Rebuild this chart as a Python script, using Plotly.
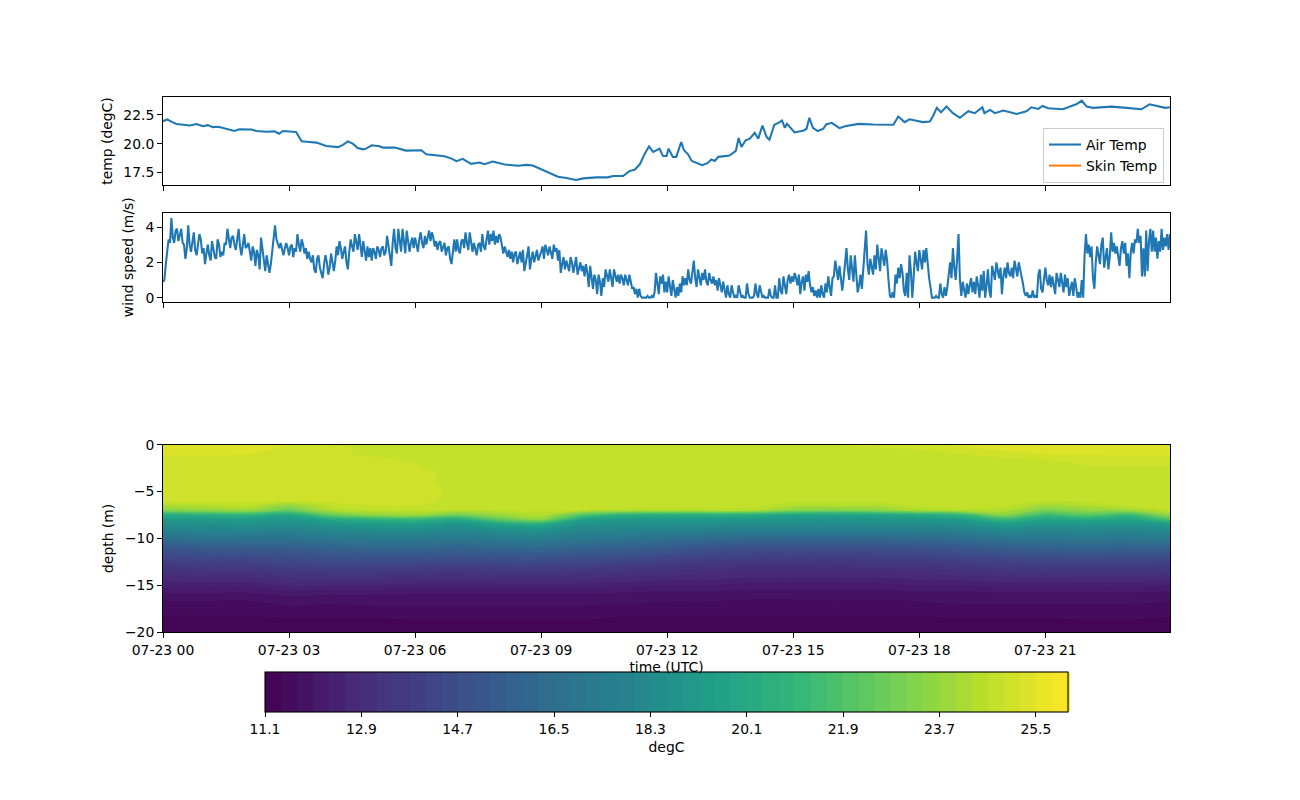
"""Air temperature, wind speed and water temperature section for one day."""
import pandas as pd
import plotly.graph_objects as go
from plotly.subplots import make_subplots

BASE_TIME = "2023-07-23 00:00"
END_TIME = "2023-07-23 23:58"
FONT = "DejaVu Sans"
FONT_SIZE = 13.9

temp_minutes = [0, 6, 12, 19, 29, 38, 48, 57, 64, 71, 79, 88, 102, 109, 126, 133, 148, 159, 166, 171,
                190, 193, 198, 209, 219, 233, 250, 257, 264, 271, 278, 286, 290, 298, 309, 314, 331, 347,
                362, 369, 376, 386, 402, 412, 419, 428, 440, 452, 459, 471, 488, 507, 519, 528, 545, 552,
                564, 576, 590, 600, 619, 635, 643, 657, 666, 674, 681, 688, 694, 700,
                709, 714, 719, 722, 728, 733, 740, 744, 750, 755, 762, 770, 778, 783, 788, 793, 809, 818,
                822, 826, 832, 838, 845, 850, 856, 862, 866, 873, 878, 884, 888, 891, 902, 909, 915, 919,
                923, 928, 935, 943, 947, 955, 966, 974, 993, 1014, 1043, 1050, 1059, 1066, 1085, 1095,
                1100, 1105, 1111, 1119, 1128, 1138, 1150, 1159, 1170, 1173, 1181, 1188, 1200, 1219, 1233,
                1240, 1250, 1256, 1264, 1285, 1300, 1305, 1312, 1319, 1328, 1354, 1376, 1397, 1409, 1423,
                1431, 1438]
temp_values = [21.94, 22.09, 21.9, 21.7, 21.63, 21.57, 21.7, 21.5, 21.6, 21.43, 21.46, 21.3, 21.1, 21.25,
               21.23, 21.1, 21.03, 21.06, 20.86, 21.09, 21.0, 20.7, 20.2, 20.14, 20.09, 19.8, 19.7, 19.9,
               20.2, 20.0, 19.63, 19.51, 19.57, 19.86, 19.77, 19.66, 19.66, 19.4, 19.4, 19.43, 19.09, 19.0,
               18.91, 18.71, 18.49, 18.69, 18.26, 18.37, 18.23, 18.46, 18.2, 18.09, 18.17, 18.11, 17.63,
               17.49, 17.14, 17.03, 16.86, 17.0, 17.09, 17.09, 17.2, 17.2, 17.63, 17.77, 18.23, 19.14,
               19.77, 19.29,
               19.57, 18.94, 18.94, 19.57, 18.86, 18.86, 20.14, 19.43, 19.06, 18.51, 18.34, 18.14, 18.34,
               18.63, 18.51, 18.86, 18.97, 19.37, 20.49, 19.71, 20.29, 20.43, 20.94, 20.43, 21.57, 20.57,
               20.34, 21.63, 21.77, 22.0, 21.37, 21.71, 20.97, 21.09, 21.14, 21.29, 22.23, 21.37, 21.09,
               21.29, 21.66, 21.8, 21.34, 21.51, 21.71, 21.66, 21.63, 22.34, 21.86, 22.11, 21.86, 21.91,
               22.43, 23.09, 22.71, 23.2, 22.63, 22.23, 22.8, 22.63, 23.14, 22.63, 22.91, 22.63, 22.86,
               22.57, 22.8, 23.14, 23.0, 23.26, 23.06, 22.97, 23.29, 23.43, 23.71, 23.2, 23.09, 23.2, 23.09,
               22.97, 23.4, 23.2, 23.09, 23.14]

# one row per hour, one value every 2 minutes
wind_values = [
    0.9, 1.0, 1.9, 2.7, 3.3, 3.1, 4.5, 3.4, 3.1, 3.8, 3.9, 3.2, 3.6, 3.9, 3.1, 3.0, 2.2, 2.8, 4.1, 3.0, 2.6, 3.2, 3.7, 2.7, 2.4, 3.0, 3.6, 3.3, 2.5, 2.8,
    1.9, 2.5, 3.0, 2.4, 2.1, 3.2, 2.8, 2.3, 2.2, 3.3, 3.0, 2.3, 2.6, 2.4, 3.1, 3.0, 3.9, 3.2, 2.8, 3.4, 3.5, 3.0, 2.7, 3.3, 3.9, 2.9, 2.4, 3.0, 3.6, 2.8,
    2.9, 3.1, 2.5, 2.1, 2.9, 2.6, 1.8, 2.7, 2.4, 1.6, 3.4, 2.7, 1.9, 1.5, 2.4, 2.0, 1.4, 1.9, 2.6, 3.1, 4.1, 3.3, 3.0, 2.8, 3.1, 2.7, 2.4, 2.8, 3.1, 2.8,
    2.4, 2.9, 3.0, 2.3, 2.8, 2.6, 3.6, 3.0, 2.6, 3.3, 3.0, 2.5, 2.8, 2.2, 2.6, 2.2, 2.0, 2.4, 1.6, 1.4, 2.2, 2.4, 1.7, 1.4, 1.1, 1.9, 2.4, 2.0, 1.3, 1.7,
    2.5, 2.0, 1.5, 2.1, 2.9, 2.4, 3.2, 2.8, 2.2, 2.6, 2.9, 2.0, 1.6, 2.6, 3.3, 2.9, 2.6, 3.6, 3.1, 2.7, 3.6, 3.0, 2.3, 3.2, 2.6, 2.1, 2.9, 2.3, 2.8, 2.1,
    2.8, 2.6, 2.2, 2.9, 2.7, 2.3, 2.8, 2.9, 2.4, 2.6, 3.5, 2.9, 2.4, 1.8, 3.1, 3.9, 2.8, 2.5, 3.9, 3.2, 2.6, 3.9, 3.0, 2.5, 3.8, 3.2, 2.6, 3.1, 3.4, 2.8,
    3.4, 3.0, 2.6, 3.3, 3.7, 3.1, 2.8, 3.5, 3.0, 3.4, 3.8, 3.2, 3.7, 3.4, 2.9, 3.2, 2.7, 3.1, 3.2, 2.6, 2.9, 3.1, 2.4, 2.8, 2.9, 2.2, 1.9, 2.8, 3.3, 2.6,
    3.3, 2.7, 2.5, 3.2, 3.3, 2.8, 3.7, 3.1, 2.7, 3.7, 3.2, 2.6, 3.1, 2.8, 2.4, 3.0, 3.1, 2.6, 3.6, 2.9, 2.7, 3.3, 3.8, 3.0, 3.6, 3.2, 3.8, 3.0, 3.5, 3.1,
    3.6, 3.4, 2.8, 2.5, 2.9, 2.6, 2.3, 2.7, 2.2, 2.6, 2.0, 2.5, 2.6, 1.9, 2.3, 2.6, 2.0, 2.7, 1.5, 2.1, 2.4, 2.9, 1.6, 2.2, 2.6, 2.0, 2.4, 2.7, 2.1, 2.3,
    2.6, 2.9, 2.2, 3.0, 2.6, 2.4, 2.9, 2.5, 2.2, 3.0, 2.6, 2.8, 2.1, 2.7, 1.4, 1.9, 2.3, 1.6, 2.1, 1.8, 1.5, 2.3, 2.0, 1.4, 1.9, 2.3, 1.3, 1.7, 2.0, 1.5,
    1.8, 1.2, 1.9, 1.4, 0.6, 1.8, 1.1, 0.5, 1.3, 1.0, 0.2, 1.3, 0.9, 0.1, 1.1, 0.6, 1.6, 1.2, 0.9, 1.6, 1.1, 0.6, 1.6, 1.3, 0.9, 1.3, 0.8, 1.3, 1.1, 0.7,
    1.3, 1.0, 0.7, 1.3, 0.9, 0.5, 0.6, 0.2, 0.5, 0.0, 0.5, 0.1, 0.0, 0.0, 0.0, 0.0, 0.1, 0.0, 0.0, 0.1, 0.0, 0.3, 1.4, 0.6, 0.2, 1.2, 0.8, 1.3, 0.3, 0.9,
    0.3, 1.2, 0.6, 0.1, 1.0, 0.4, 0.0, 0.6, 0.1, 0.8, 0.3, 1.2, 0.7, 1.1, 0.7, 1.6, 1.0, 0.8, 1.4, 2.1, 1.1, 0.6, 1.6, 1.2, 0.7, 1.4, 1.0, 1.6, 0.9, 0.7,
    1.4, 1.0, 0.8, 1.2, 0.7, 1.0, 0.4, 1.1, 0.6, 0.3, 0.9, 0.4, 0.0, 0.7, 0.2, 0.0, 0.7, 0.3, 0.0, 0.1, 0.0, 0.7, 0.4, 0.0, 0.1, 0.0, 0.0, 0.8, 0.2, 0.0,
    0.0, 0.0, 0.1, 0.8, 0.2, 0.0, 0.7, 0.3, 0.0, 0.1, 0.0, 0.0, 0.0, 0.5, 0.1, 0.0, 0.0, 0.7, 0.0, 0.0, 1.1, 0.4, 0.2, 1.2, 0.8, 0.2, 1.0, 1.3, 0.8, 1.2,
    0.9, 1.4, 1.1, 0.7, 1.3, 0.2, 0.9, 1.2, 0.4, 1.3, 0.9, 1.5, 0.7, 0.3, 0.6, 0.1, 0.4, 0.0, 0.5, 0.0, 0.7, 0.2, 0.0, 0.8, 0.3, 1.2, 0.6, 0.1, 1.1, 1.2,
    2.1, 1.5, 1.0, 1.8, 0.9, 0.4, 1.1, 1.9, 2.8, 1.6, 1.0, 2.4, 1.8, 0.9, 2.4, 1.4, 0.3, 0.7, 1.3, 0.5, 1.7, 2.3, 3.8, 1.9, 1.3, 2.2, 1.7, 1.3, 2.4, 1.6,
    3.0, 2.0, 1.5, 2.8, 2.2, 1.8, 2.7, 2.1, 1.0, 0.1, 0.0, 0.3, 0.0, 1.3, 0.8, 1.7, 1.1, 1.9, 1.4, 0.4, 0.1, 1.4, 0.0, 2.4, 1.5, 0.0, 1.2, 2.6, 2.0, 1.5,
    2.7, 2.2, 1.6, 2.7, 2.0, 2.8, 1.9, 1.1, 0.6, 0.0, 0.0, 0.0, 0.1, 0.0, 0.0, 0.8, 0.2, 0.0, 0.6, 0.1, 0.6, 1.4, 2.0, 1.1, 2.8, 1.7, 1.0, 2.2, 3.6, 1.0,
    0.1, 0.9, 0.4, 0.0, 0.8, 0.2, 0.7, 1.1, 0.3, 0.9, 0.2, 1.2, 0.7, 0.0, 1.3, 0.4, 1.5, 0.0, 0.7, 1.6, 0.4, 0.0, 1.8, 1.3, 1.0, 2.0, 1.4, 1.1, 1.7, 0.2,
    1.2, 1.7, 1.1, 2.0, 1.4, 1.2, 1.7, 1.1, 2.1, 1.6, 1.2, 2.0, 1.5, 1.2, 0.8, 0.3, 0.1, 0.3, 0.0, 0.1, 0.0, 0.4, 0.0, 0.1, 0.0, 1.3, 1.6, 0.5, 0.3, 1.1,
    1.7, 1.0, 0.7, 1.3, 0.6, 1.2, 0.8, 0.2, 1.4, 1.0, 0.6, 1.4, 0.9, 0.3, 1.3, 0.6, 1.1, 0.1, 0.5, 0.9, 0.1, 1.1, 0.6, 0.0, 0.3, 0.0, 1.0, 0.0, 2.4, 3.6,
    2.5, 3.0, 2.3, 2.9, 1.1, 0.5, 2.0, 2.9, 2.4, 1.9, 3.0, 3.4, 1.7, 2.4, 2.8, 1.6, 2.3, 3.7, 2.6, 3.1, 2.5, 2.9, 2.2, 1.8, 2.8, 3.2, 2.5, 3.1, 1.8, 2.5,
    1.1, 2.6, 3.1, 2.5, 3.3, 3.1, 3.9, 3.1, 3.5, 1.2, 2.8, 1.2, 3.8, 1.5, 3.2, 3.9, 2.6, 3.8, 2.6, 3.4, 2.2, 3.2, 2.6, 3.9, 2.7, 3.4, 2.9, 3.6, 2.7, 3.6,
]

section_minutes = [0, 60, 120, 180, 240, 300, 360, 420, 480, 540, 600, 660, 720, 780, 840, 900, 960, 1020,
                   1080, 1140, 1200, 1260, 1320, 1380, 1438]
depths = [0, -0.5, -1, -1.5, -2, -3, -4, -5, -6, -6.5, -7, -7.5, -8, -8.5, -9, -10, -11, -12, -13, -14,
          -15, -16, -17, -18, -19, -20]
section_temp = [
    [25.5, 25.5, 25.4, 25.2, 24.9, 24.8, 24.75, 24.75, 24.75, 24.75, 24.75, 24.75, 24.7, 24.7, 24.75, 24.8, 24.9, 25.0, 25.1, 25.25, 25.3, 25.35, 25.4, 25.45, 25.5],
    [25.45, 25.45, 25.35, 25.1, 24.95, 24.85, 24.8, 24.75, 24.75, 24.75, 24.75, 24.75, 24.75, 24.75, 24.75, 24.75, 24.8, 24.85, 24.9, 25.1, 25.25, 25.3, 25.3, 25.35, 25.4],
    [25.3, 25.3, 25.2, 25.05, 24.95, 24.85, 24.8, 24.75, 24.75, 24.75, 24.75, 24.75, 24.75, 24.75, 24.75, 24.75, 24.75, 24.8, 24.8, 24.9, 25.05, 25.2, 25.25, 25.3, 25.3],
    [25.1, 25.05, 25.05, 25.0, 25.0, 24.95, 24.85, 24.8, 24.75, 24.75, 24.75, 24.75, 24.75, 24.75, 24.75, 24.75, 24.75, 24.75, 24.75, 24.75, 24.85, 24.95, 25.0, 25.0, 25.0],
    [25.05, 25.05, 25.05, 25.0, 25.0, 25.0, 24.9, 24.8, 24.75, 24.75, 24.75, 24.75, 24.75, 24.75, 24.75, 24.75, 24.75, 24.75, 24.75, 24.75, 24.75, 24.8, 24.95, 24.95, 24.95],
    [25.05, 25.05, 25.05, 25.05, 25.05, 25.05, 25.0, 24.8, 24.75, 24.75, 24.75, 24.75, 24.75, 24.75, 24.75, 24.75, 24.75, 24.75, 24.75, 24.75, 24.75, 24.75, 24.75, 24.75, 24.75],
    [25.05, 25.05, 25.05, 25.05, 25.05, 25.05, 25.0, 24.8, 24.75, 24.75, 24.75, 24.75, 24.75, 24.75, 24.75, 24.75, 24.75, 24.75, 24.75, 24.75, 24.75, 24.75, 24.75, 24.75, 24.75],
    [25.05, 25.05, 25.05, 25.05, 25.05, 25.05, 25.0, 24.85, 24.75, 24.75, 24.75, 24.75, 24.75, 24.75, 24.75, 24.75, 24.75, 24.75, 24.75, 24.75, 24.75, 24.75, 24.75, 24.75, 24.75],
    [25.0, 25.0, 25.0, 24.95, 25.0, 25.0, 25.0, 24.8, 24.75, 24.75, 24.75, 24.75, 24.75, 24.75, 24.75, 24.7, 24.7, 24.7, 24.75, 24.75, 24.75, 24.7, 24.75, 24.75, 24.75],
    [24.2, 24.4, 24.6, 23.6, 24.7, 24.9, 24.9, 24.75, 24.75, 24.75, 24.75, 24.75, 24.75, 24.75, 24.75, 24.3, 24.3, 24.3, 24.7, 24.75, 24.7, 24.0, 24.3, 24.7, 24.75],
    [23.4, 23.6, 23.9, 22.6, 24.3, 24.6, 24.7, 24.6, 24.6, 24.7, 24.6, 24.5, 24.4, 24.5, 24.4, 23.4, 23.3, 23.5, 24.2, 24.5, 24.4, 23.1, 23.6, 23.9, 24.6],
    [20.2, 20.5, 20.8, 20.0, 22.5, 23.6, 23.9, 22.8, 23.8, 24.4, 22.0, 20.6, 20.3, 20.4, 20.3, 19.8, 19.7, 19.9, 20.2, 21.0, 23.4, 21.3, 22.2, 21.2, 23.7],
    [19.1, 19.2, 19.3, 19.0, 20.0, 20.6, 20.9, 20.1, 22.3, 23.5, 19.6, 19.2, 19.1, 19.1, 19.0, 18.9, 18.8, 18.9, 19.0, 19.3, 21.0, 19.8, 20.0, 19.8, 21.8],
    [18.5, 18.6, 18.7, 18.5, 18.9, 19.2, 19.4, 18.9, 19.8, 20.2, 18.7, 18.6, 18.5, 18.5, 18.3, 18.3, 18.3, 18.3, 18.4, 18.6, 19.3, 18.8, 18.9, 18.8, 19.3],
    [18.0, 18.1, 18.1, 18.0, 18.3, 18.5, 18.6, 18.3, 18.7, 18.9, 18.2, 18.1, 18.0, 17.9, 17.8, 17.8, 17.8, 17.8, 17.8, 17.9, 18.4, 18.2, 18.3, 18.2, 18.4],
    [16.6, 16.8, 16.8, 16.8, 17.1, 17.3, 17.3, 17.1, 17.4, 17.6, 17.1, 16.9, 16.6, 16.4, 16.2, 16.1, 16.1, 16.2, 16.3, 16.5, 16.9, 17.0, 17.1, 17.1, 17.2],
    [15.2, 15.4, 15.5, 15.6, 15.9, 16.0, 16.1, 15.9, 16.1, 16.2, 15.9, 15.7, 15.4, 15.0, 14.8, 14.8, 14.8, 14.8, 15.0, 15.2, 15.6, 15.8, 15.9, 15.8, 15.8],
    [14.3, 14.5, 14.5, 14.7, 14.9, 15.0, 15.0, 14.9, 15.0, 15.0, 14.8, 14.7, 14.4, 14.1, 14.0, 14.0, 13.9, 14.0, 14.1, 14.3, 14.5, 14.6, 14.7, 14.6, 14.6],
    [13.5, 13.7, 13.7, 14.0, 14.1, 14.1, 14.0, 13.9, 14.0, 14.0, 13.9, 13.7, 13.5, 13.3, 13.2, 13.2, 13.2, 13.3, 13.3, 13.5, 13.7, 13.8, 13.8, 13.8, 13.7],
    [12.9, 13.0, 13.0, 13.3, 13.3, 13.3, 13.2, 13.1, 13.2, 13.2, 13.1, 13.0, 12.9, 12.8, 12.7, 12.7, 12.7, 12.7, 12.8, 12.9, 13.0, 13.1, 13.0, 13.0, 13.0],
    [12.4, 12.4, 12.4, 12.7, 12.6, 12.6, 12.5, 12.5, 12.5, 12.5, 12.5, 12.4, 12.3, 12.3, 12.2, 12.2, 12.2, 12.2, 12.3, 12.3, 12.4, 12.4, 12.4, 12.4, 12.3],
    [11.95, 11.95, 11.9, 12.05, 12.0, 12.0, 11.95, 11.95, 11.95, 11.95, 11.95, 11.9, 11.85, 11.85, 11.8, 11.8, 11.8, 11.8, 11.85, 11.85, 11.9, 11.9, 11.9, 11.9, 11.85],
    [11.6, 11.6, 11.6, 11.75, 11.7, 11.75, 11.75, 11.75, 11.75, 11.75, 11.75, 11.7, 11.65, 11.65, 11.6, 11.6, 11.65, 11.6, 11.65, 11.7, 11.7, 11.7, 11.7, 11.7, 11.65],
    [11.45, 11.45, 11.45, 11.5, 11.5, 11.5, 11.5, 11.5, 11.5, 11.5, 11.5, 11.45, 11.45, 11.45, 11.45, 11.45, 11.45, 11.45, 11.45, 11.5, 11.5, 11.5, 11.5, 11.5, 11.45],
    [11.3, 11.3, 11.3, 11.3, 11.3, 11.3, 11.35, 11.35, 11.35, 11.35, 11.35, 11.3, 11.3, 11.3, 11.3, 11.3, 11.3, 11.3, 11.3, 11.3, 11.3, 11.3, 11.35, 11.35, 11.3],
    [11.2, 11.2, 11.2, 11.2, 11.2, 11.2, 11.2, 11.2, 11.2, 11.2, 11.2, 11.2, 11.2, 11.2, 11.2, 11.2, 11.2, 11.2, 11.2, 11.2, 11.2, 11.2, 11.2, 11.2, 11.2],
]

tick_times = ["2023-07-23 00:00", "2023-07-23 03:00", "2023-07-23 06:00", "2023-07-23 09:00",
              "2023-07-23 12:00", "2023-07-23 15:00", "2023-07-23 18:00", "2023-07-23 21:00"]
colorbar_ticks = [11.1, 12.9, 14.7, 16.5, 18.3, 20.1, 21.9, 23.7, 25.5]


def to_times(minutes: list) -> pd.DatetimeIndex:
    """Turn minutes since the start of the day into timestamps."""
    return pd.Timestamp(BASE_TIME) + pd.to_timedelta(minutes, unit="m")


wind_minutes = [i * 2 for i in range(len(wind_values))]

fig = make_subplots(rows=3, cols=1)

fig.add_trace(go.Scatter(x=to_times(temp_minutes), y=temp_values, mode="lines", name="Air Temp",
                         line=dict(color="#1f77b4", width=2.08)), row=1, col=1)
# the skin temperature series has no data, it only shows up in the legend
fig.add_trace(go.Scatter(x=[BASE_TIME], y=[None], mode="lines", name="Skin Temp",
                         line=dict(color="#ff7f0e", width=2.08)), row=1, col=1)
fig.add_trace(go.Scatter(x=to_times(wind_minutes), y=wind_values, mode="lines", showlegend=False,
                         line=dict(color="#1f77b4", width=2.08)), row=2, col=1)
fig.add_trace(go.Contour(x=to_times(section_minutes), y=depths, z=section_temp, colorscale="Viridis",
                         zmin=11.1, zmax=26.1, autocontour=False, showlegend=False,
                         contours=dict(start=11.1, end=26.1, size=0.3, coloring="fill", showlines=False),
                         line=dict(width=0),
                         colorbar=dict(orientation="h", lenmode="pixels", len=803, thicknessmode="pixels",
                                       thickness=40, xref="paper", yref="paper",
                                       x=(265 - 163) / 1007, xanchor="left",
                                       y=(632 - 672) / 535, yanchor="top", xpad=0, ypad=0,
                                       outlinecolor="black", outlinewidth=1.1,
                                       tickmode="array", tickvals=colorbar_ticks, tickformat=".1f",
                                       ticks="outside", ticklen=4.9, tickwidth=1.1, tickcolor="black",
                                       tickfont=dict(family=FONT, size=FONT_SIZE, color="black"),
                                       title=dict(text="degC", side="bottom",
                                                  font=dict(family=FONT, size=FONT_SIZE, color="black")))),
              row=3, col=1)

axis_style = dict(showgrid=False, zeroline=False, showline=True, mirror=True, linecolor="black",
                  linewidth=1.1, ticks="outside", ticklen=4.9, tickwidth=1.1, tickcolor="black",
                  tickfont=dict(family=FONT, size=FONT_SIZE, color="black"))
title_font = dict(family=FONT, size=FONT_SIZE, color="black")

for row in (1, 2, 3):
    fig.update_xaxes(axis_style, range=[BASE_TIME, END_TIME], tickmode="array", tickvals=tick_times,
                     tickformat="%m-%d %H", showticklabels=row == 3, row=row, col=1)

fig.update_xaxes(title=dict(text="time (UTC)", font=title_font, standoff=5), row=3, col=1)
fig.update_yaxes(axis_style, domain=[(632 - 185) / 535, (632 - 97) / 535], range=[16.43, 24.03],
                 tickmode="array", tickvals=[17.5, 20, 22.5], tickformat=".1f",
                 title=dict(text="temp (degC)", font=title_font, standoff=7), row=1, col=1)
fig.update_yaxes(axis_style, domain=[(632 - 301.7) / 535, (632 - 212.7) / 535], range=[-0.23, 4.81],
                 tickmode="array", tickvals=[0, 2, 4],
                 title=dict(text="wind speed (m/s)", font=title_font, standoff=8), row=2, col=1)
fig.update_yaxes(axis_style, domain=[0, (632 - 444.7) / 535], range=[-20, 0],
                 tickmode="array", tickvals=[0, -5, -10, -15, -20],
                 title=dict(text="depth (m)", font=title_font, standoff=8), row=3, col=1)

# the page has an 8px body margin, so the margins are 8px short on the left and top
fig.update_layout(width=1300, height=800, margin=dict(l=155, r=138, t=89, b=176, autoexpand=False),
                  paper_bgcolor="white", plot_bgcolor="white", font=dict(family=FONT, size=FONT_SIZE),
                  legend=dict(x=(1164 - 163) / 1007, xanchor="right", y=(632 - 128) / 535, yanchor="top",
                              bgcolor="rgba(255,255,255,0.8)", bordercolor="#cccccc", borderwidth=1,
                              font=dict(family=FONT, size=FONT_SIZE, color="black"), itemwidth=32))

fig.write_html("out.html")
